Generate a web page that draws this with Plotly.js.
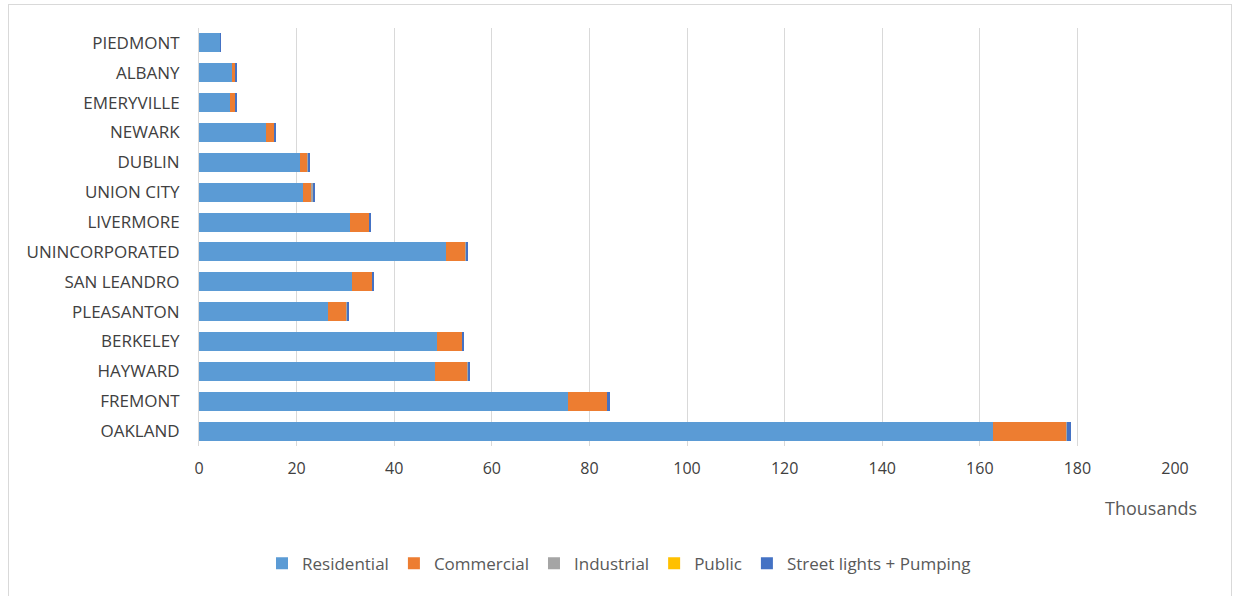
<!DOCTYPE html>
<html>
<head>
<meta charset="utf-8">
<script src="https://cdn.plot.ly/plotly-3.0.1.min.js"></script>
<style>
  html, body { margin: 0; padding: 0; background: #ffffff; }
  #wrap { position: relative; width: 1238px; height: 596px; overflow: hidden; }
  #chart { position: absolute; left: 0; top: 0; width: 1238px; height: 596px; }
  #frame { position: absolute; left: 8px; top: 4px; width: 1222px; height: 600px; border: 1px solid #d9d9d9; pointer-events: none; }
</style>
</head>
<body>
<div id="wrap">
  <div id="chart"></div>
  <div id="frame"></div>
</div>
<script>
// Categories listed top to bottom (values in thousands)
const cities = ["PIEDMONT", "ALBANY", "EMERYVILLE", "NEWARK", "DUBLIN", "UNION CITY", "LIVERMORE",
                "UNINCORPORATED", "SAN LEANDRO", "PLEASANTON", "BERKELEY", "HAYWARD", "FREMONT", "OAKLAND"];
const residential = [4.2, 6.7, 6.3, 13.7, 20.6, 21.3, 31.0, 50.7, 31.3, 26.5, 48.7, 48.3, 75.6, 162.7];
const commercial  = [0.1, 0.7, 1.1, 1.6, 1.6, 1.7, 3.8, 3.8, 4.1, 3.7, 5.1, 6.7, 8.0, 15.0];
const industrial  = [0.0, 0.0, 0.0, 0.1, 0.1, 0.3, 0.1, 0.2, 0.1, 0.1, 0.1, 0.2, 0.1, 0.1];
const publicUse   = [0.0, 0.0, 0.0, 0.0, 0.0, 0.0, 0.0, 0.0, 0.0, 0.0, 0.0, 0.0, 0.0, 0.0];
const streetPump  = [0.2, 0.4, 0.4, 0.4, 0.4, 0.4, 0.3, 0.5, 0.4, 0.4, 0.3, 0.4, 0.5, 0.8];
const seriesNames = ["Residential", "Commercial", "Industrial", "Public", "Street lights + Pumping"];
const seriesColors = ["#5B9BD5", "#ED7D31", "#A5A5A5", "#FFC000", "#4472C4"];
const xTicks = [0, 20, 40, 60, 80, 100, 120, 140, 160, 180, 200];

const allSeries = [residential, commercial, industrial, publicUse, streetPump];
const traces = allSeries.map((vals, i) => ({
  type: "bar",
  orientation: "h",
  name: seriesNames[i],
  y: cities,
  x: vals,
  marker: { color: seriesColors[i], line: { width: 0 } },
  hoverinfo: "x+y+name"
}));

const layout = {
  width: 1238,
  height: 596,
  barmode: "stack",
  bargap: 0.36,
  paper_bgcolor: "#ffffff",
  plot_bgcolor: "#ffffff",
  margin: { l: 199, r: 63, t: 28, b: 150, pad: 0 },
  font: { family: "Open Sans, Liberation Sans, sans-serif", color: "#595959", size: 16 },
  xaxis: {
    range: [0, 200],
    tickvals: xTicks,
    ticktext: xTicks.map(String),
    showgrid: true,
    gridcolor: "#d9d9d9",
    gridwidth: 1,
    zeroline: false,
    showline: false,
    ticks: "",
    ticklabelstandoff: 11,
    tickfont: { size: 16, color: "#404040" },
    fixedrange: true
  },
  yaxis: {
    type: "category",
    categoryorder: "array",
    categoryarray: cities,
    autorange: "reversed",
    showgrid: false,
    zeroline: false,
    showline: true,
    linecolor: "#d9d9d9",
    linewidth: 1,
    ticks: "",
    ticklabelstandoff: 15,
    tickfont: { size: 17, color: "#404040" },
    fixedrange: true
  },
  showlegend: true,
  legend: {
    orientation: "h",
    x: 0.5,
    xref: "container",
    xanchor: "center",
    y: 0.054,
    yref: "container",
    yanchor: "middle",
    font: { size: 17, color: "#595959" },
    itemwidth: 30,
    tracegroupgap: 0,
    traceorder: "normal"
  },
  annotations: [{
    text: "Thousands",
    xref: "paper",
    yref: "paper",
    x: 1.025,
    y: -0.148,
    xanchor: "right",
    yanchor: "middle",
    showarrow: false,
    font: { size: 18, color: "#595959" }
  }]
};

Plotly.newPlot("chart", traces, layout, { displayModeBar: false, staticPlot: true });
</script>
</body>
</html>
